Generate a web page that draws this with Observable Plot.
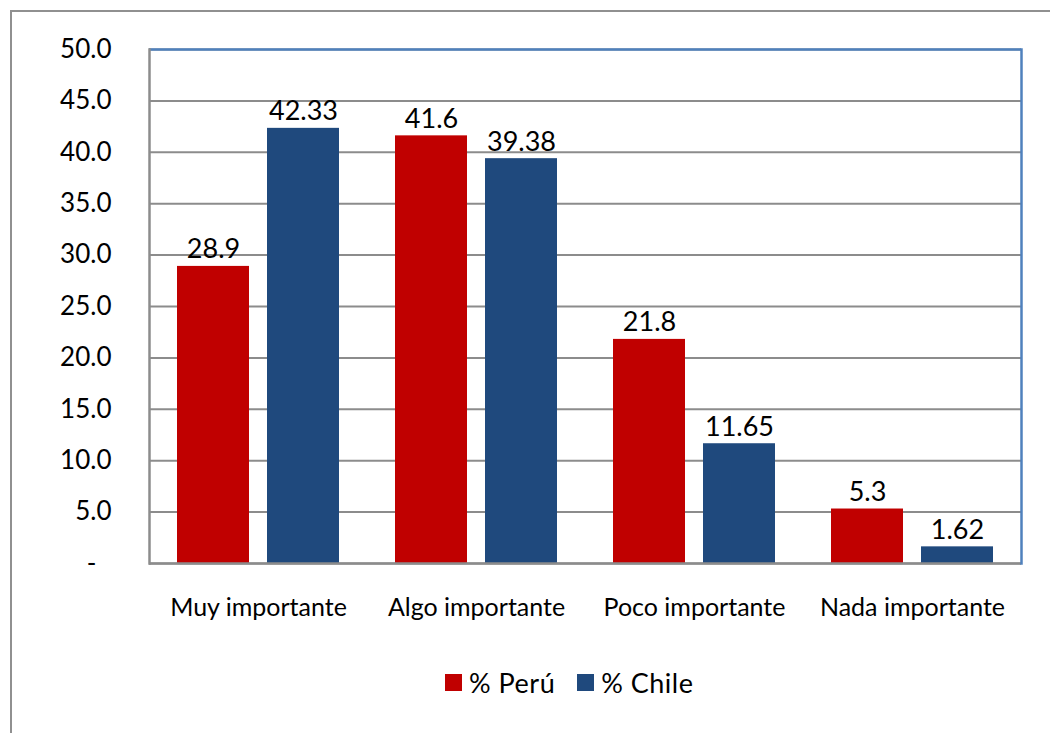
<!DOCTYPE html>
<html><head><meta charset="utf-8">
<script src="https://cdn.jsdelivr.net/npm/d3@7"></script>
<script src="https://cdn.jsdelivr.net/npm/@observablehq/plot@0.6"></script>
<style>
html,body{margin:0;padding:0;background:#fff;overflow:hidden;width:1050px;height:733px;position:relative}
#frame{position:absolute;left:10px;top:10px;width:1100px;height:800px;border:2px solid #909090;box-sizing:border-box}
#chart{position:absolute;left:0;top:0}
#legend{position:absolute;left:445px;top:666px;display:flex;align-items:center;font-family:Lato,sans-serif;font-size:27px;color:#000;letter-spacing:0.5px}
#legend .item{display:flex;align-items:center;margin-right:22px}
#legend .sw{width:17px;height:17px;margin-right:7px}
</style>
</head><body>
<div id="frame"></div>
<div id="chart"></div>
<div id="legend"></div>
<script>
const categories = ["Muy importante", "Algo importante", "Poco importante", "Nada importante"];
const series = ["% Perú", "% Chile"];
const peru = [28.9, 41.6, 21.8, 5.3];
const chile = [42.33, 39.38, 11.65, 1.62];
const yTicks = [0, 5, 10, 15, 20, 25, 30, 35, 40, 45, 50];
const colors = ["#C00000", "#1F497D"];

const rows = [];
categories.forEach((c, i) => {
  rows.push({cat: c, series: series[0], value: peru[i]});
  rows.push({cat: c, series: series[1], value: chile[i]});
});

const grid = "#8c8c8c";
const border = "#4F81BD";

const plot = Plot.plot({
  width: 1050, height: 633,
  marginLeft: 148, marginRight: 28, marginTop: 49, marginBottom: 70,
  style: {fontFamily: "Lato, sans-serif", background: "transparent", color: "#000"},
  fx: {domain: categories, padding: 0, label: null, axis: null},
  x: {domain: series, paddingInner: 0.2, paddingOuter: 0.31, axis: null},
  y: {domain: [0, 50], axis: null},
  color: {domain: series, range: colors},
  marks: [
    Plot.gridY(yTicks, {stroke: grid, strokeOpacity: 1, strokeWidth: 2}),
    Plot.ruleY([50], {stroke: border, strokeWidth: 2.5}),
    Plot.barY(rows, {fx: "cat", x: "series", y: "value", fill: "series"}),
    Plot.text(rows, {fx: "cat", x: "series", y: "value", text: d => String(d.value), lineAnchor: "bottom", dy: -8, fontSize: 27, fill: "#000", letterSpacing: 0.5}),
    Plot.ruleY([0], {stroke: grid, strokeWidth: 2.5}),
    Plot.frame({anchor: "left", facetAnchor: "left", stroke: grid, strokeWidth: 2.5}),
    Plot.frame({anchor: "right", facetAnchor: "right", stroke: border, strokeWidth: 2.5}),
    Plot.axisY(yTicks, {anchor: "left", tickSize: 0, tickPadding: 38, fontSize: 26, fill: "#000",
      tickFormat: d => d === 0 ? "-\u2007" : d.toFixed(1), label: null}),
    Plot.axisFx({anchor: "bottom", tickSize: 0, tickPadding: 35, fontSize: 25, fill: "#000", label: null})
  ]
});
document.getElementById("chart").appendChild(plot);

const legend = document.getElementById("legend");
series.forEach((s, i) => {
  const item = document.createElement("div");
  item.className = "item";
  const sw = document.createElement("div");
  sw.className = "sw";
  sw.style.background = colors[i];
  const t = document.createElement("span");
  t.textContent = s;
  item.appendChild(sw); item.appendChild(t);
  legend.appendChild(item);
});
</script>
</body></html>
